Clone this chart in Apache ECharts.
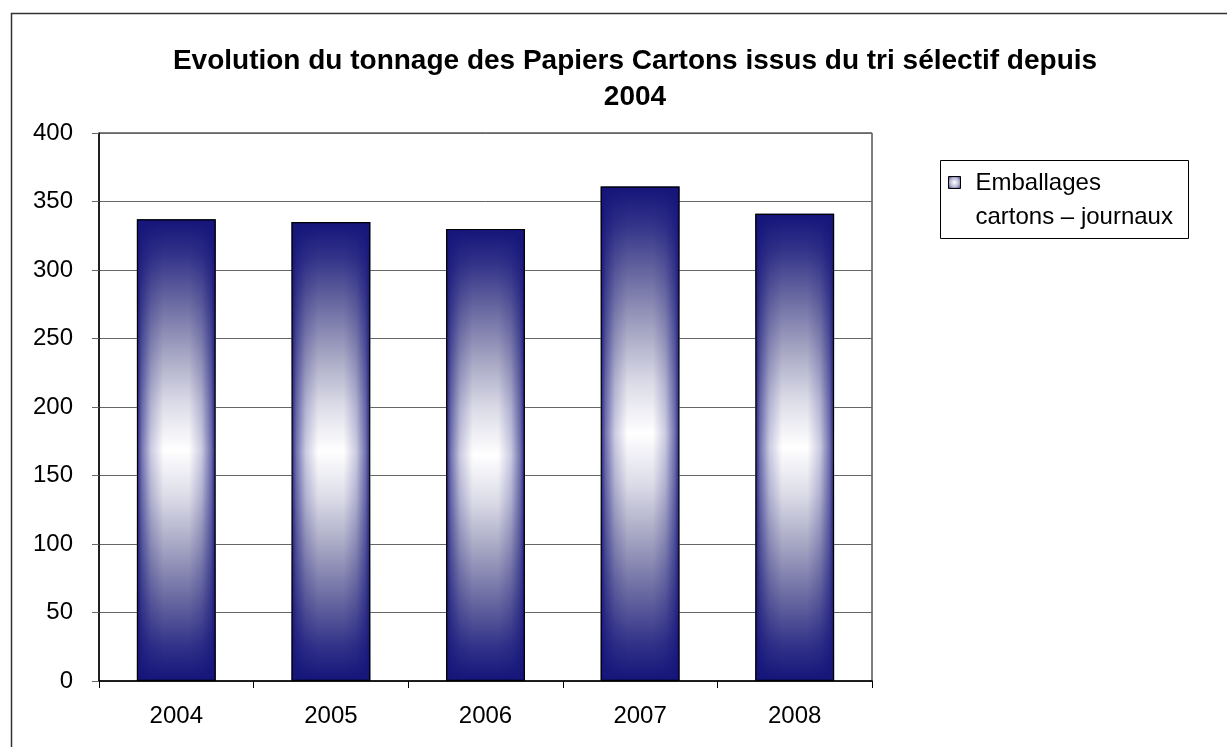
<!DOCTYPE html>
<html>
<head>
<meta charset="utf-8">
<script src="https://cdn.jsdelivr.net/npm/echarts@6/dist/echarts.min.js"></script>
<style>
html,body{margin:0;padding:0;background:#fff;}
#chart{width:1227px;height:747px;}
</style>
</head>
<body>
<div id="chart"></div>
<script>
const categories = ['2004', '2005', '2006', '2007', '2008'];
const tonnage = [337, 335, 330, 361, 341];
const seriesName = 'Emballages cartons – journaux';
const legendLines = ['Emballages', 'cartons – journaux'];
const titleText = 'Evolution du tonnage des Papiers Cartons issus du tri sélectif depuis\n2004';

const FONT = '"Liberation Sans", Arial, sans-serif';
const NAVY = '20,20,122';

const verticalFill = new echarts.graphic.LinearGradient(0, 0, 0, 1, [
  {offset: 0, color: '#14147a'},
  {offset: 0.08, color: '#34348a'},
  {offset: 0.18, color: '#6a6aa2'},
  {offset: 0.3, color: '#aaaac6'},
  {offset: 0.4, color: '#dcdce8'},
  {offset: 0.5, color: '#ffffff'},
  {offset: 0.6, color: '#dcdce8'},
  {offset: 0.7, color: '#aaaac6'},
  {offset: 0.82, color: '#6a6aa2'},
  {offset: 0.92, color: '#34348a'},
  {offset: 1, color: '#14147a'}
]);
const horizontalFill = new echarts.graphic.LinearGradient(0, 0, 1, 0, [
  {offset: 0, color: 'rgba(' + NAVY + ',0.95)'},
  {offset: 0.06, color: 'rgba(' + NAVY + ',0.6)'},
  {offset: 0.18, color: 'rgba(' + NAVY + ',0.22)'},
  {offset: 0.34, color: 'rgba(' + NAVY + ',0)'},
  {offset: 0.66, color: 'rgba(' + NAVY + ',0)'},
  {offset: 0.82, color: 'rgba(' + NAVY + ',0.22)'},
  {offset: 0.94, color: 'rgba(' + NAVY + ',0.6)'},
  {offset: 1, color: 'rgba(' + NAVY + ',0.95)'}
]);
const markerFill = new echarts.graphic.RadialGradient(0.5, 0.5, 0.7, [
  {offset: 0, color: '#ffffff'},
  {offset: 0.5, color: '#b8b8d0'},
  {offset: 1, color: '#14147a'}
]);

const chart = echarts.init(document.getElementById('chart'), null, {renderer: 'canvas'});
chart.setOption({
  backgroundColor: '#ffffff',
  animation: false,
  title: {
    text: titleText,
    left: 630,
    top: 38,
    textAlign: 'center',
    textStyle: {fontFamily: FONT, fontWeight: 'bold', fontSize: 28, lineHeight: 36, color: '#000'}
  },
  grid: {
    left: 99, right: 355, top: 133, bottom: 66,
    show: true, borderColor: '#000', borderWidth: 1, backgroundColor: 'transparent'
  },
  xAxis: {
    type: 'category',
    data: categories,
    boundaryGap: true,
    axisLine: {lineStyle: {color: '#000', width: 1.5}},
    axisTick: {show: true, alignWithLabel: false, length: 7, lineStyle: {color: '#000'}},
    axisLabel: {fontFamily: FONT, fontSize: 24, color: '#000', margin: 23}
  },
  yAxis: {
    type: 'value',
    min: 0, max: 400, interval: 50,
    axisLine: {show: true, lineStyle: {color: '#000', width: 1.5}},
    axisTick: {show: true, length: 7, lineStyle: {color: '#666'}},
    axisLabel: {fontFamily: FONT, fontSize: 24, color: '#000', margin: 26},
    splitLine: {show: true, lineStyle: {color: '#666', width: 1}}
  },
  legend: {show: false},
  series: [
    {
      name: seriesName,
      type: 'bar',
      data: tonnage,
      barWidth: '51%',
      itemStyle: {color: verticalFill},
      silent: true
    },
    {
      name: seriesName + ' ',
      type: 'bar',
      data: tonnage,
      barWidth: '51%',
      barGap: '-100%',
      itemStyle: {color: horizontalFill, borderColor: '#000', borderWidth: 1.2},
      silent: true
    }
  ],
  graphic: [
    {
      type: 'rect', left: 9, top: 11, silent: true,
      shape: {x: 0, y: 0, width: 1400, height: 900},
      style: {fill: 'none', stroke: '#333', lineWidth: 1.5}
    },
    {
      type: 'group', left: 940, top: 160,
      children: [
        {type: 'rect', shape: {x: 0, y: 0, width: 248, height: 78},
          style: {fill: '#fff', stroke: '#000', lineWidth: 1}},
        {type: 'rect', shape: {x: 8, y: 16, width: 12, height: 12},
          style: {fill: markerFill, stroke: '#000', lineWidth: 1}},
        {type: 'text', x: 35, y: 23,
          style: {text: legendLines[0], fontFamily: FONT, fontSize: 24, fill: '#000', verticalAlign: 'middle'}},
        {type: 'text', x: 35, y: 57,
          style: {text: legendLines[1], fontFamily: FONT, fontSize: 24, fill: '#000', verticalAlign: 'middle'}}
      ]
    }
  ]
});
</script>
</body>
</html>
